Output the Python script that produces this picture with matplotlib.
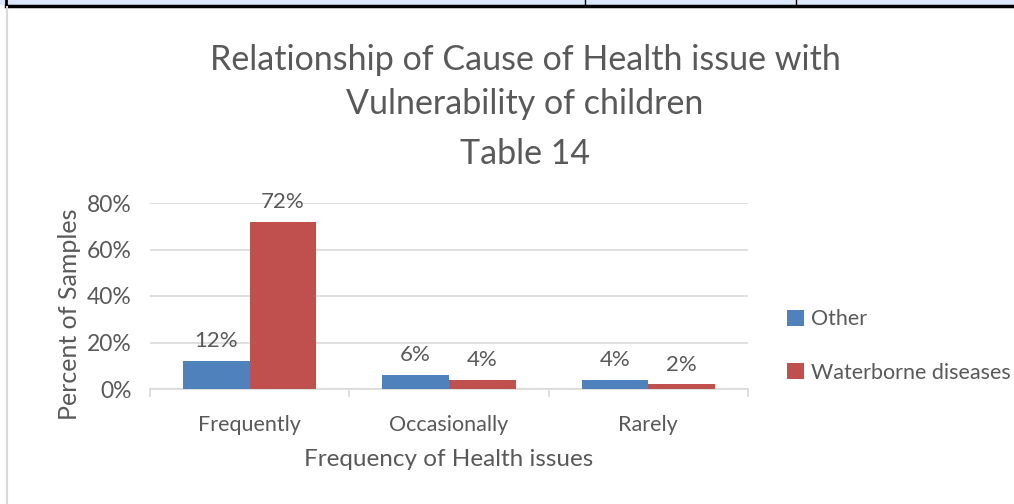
import numpy as np
import matplotlib
matplotlib.use("Agg")
import matplotlib.pyplot as plt
from matplotlib.lines import Line2D
from matplotlib.patches import Rectangle

# --- data ---
categories = ["Frequently", "Occasionally", "Rarely"]
series_names = ["Other", "Waterborne diseases"]
other = [12, 6, 4]
waterborne = [72, 4, 2]
y_ticks = [0, 20, 40, 60, 80]

BLUE = "#4f81bd"
RED = "#c0504d"
TEXT = "#595959"
GRID = "#d9d9d9"

plt.rcParams["font.family"] = ["Lato", "DejaVu Sans"]

W, H = 1014, 504
fig = plt.figure(figsize=(W / 100, H / 100), dpi=100)

# plot area in pixel terms
left, right, bottom, top = 150, 748, 389, 203
ax = fig.add_axes([left / W, 1 - bottom / H, (right - left) / W, (bottom - top) / H])

x = np.arange(len(categories))
bw = 0.335
b1 = ax.bar(x - bw / 2, other, bw, color=BLUE, label=series_names[0], zorder=3)
b2 = ax.bar(x + bw / 2, waterborne, bw, color=RED, label=series_names[1], zorder=3)

for bars, vals in ((b1, other), (b2, waterborne)):
    for rect, v in zip(bars, vals):
        ax.annotate(f"{v}%", (rect.get_x() + rect.get_width() / 2, v),
                    xytext=(0, 7), textcoords="offset points",
                    ha="center", va="bottom", fontsize=16, color=TEXT)

ax.set_xlim(-0.5, len(categories) - 0.5)
ax.set_ylim(0, 80)
ax.set_yticks(y_ticks)
ax.set_yticklabels([f"{t}%" for t in y_ticks])
ax.yaxis.grid(True, color=GRID, linewidth=1.2, zorder=0)
ax.set_axisbelow(True)

# category ticks sit on the boundaries, labels in the middle
ax.set_xticks(np.arange(len(categories) + 1) - 0.5)
ax.set_xticklabels([])
ax.set_xticks(x, minor=True)
ax.set_xticklabels(categories, minor=True)
ax.tick_params(axis="x", which="major", length=6, color=GRID, width=1.2)
ax.tick_params(axis="x", which="minor", length=0, pad=19, labelsize=15.5, labelcolor=TEXT)
ax.tick_params(axis="y", length=0, pad=13, labelsize=16.5, labelcolor=TEXT)

for s in ("top", "right", "left"):
    ax.spines[s].set_visible(False)
ax.spines["bottom"].set_color(GRID)
ax.spines["bottom"].set_linewidth(1.2)

ax.set_xlabel("Frequency of Health issues", fontsize=17.5, color=TEXT, labelpad=10)
ax.set_ylabel("Percent of Samples", fontsize=18, color=TEXT)
ax.yaxis.set_label_coords(-0.115, 0.40)

fig.text(525 / W, 1 - 60 / H, "Relationship of Cause of Health issue with",
         ha="center", va="center", fontsize=24.5, color=TEXT)
fig.text(525 / W, 1 - 104 / H, "Vulnerability of children",
         ha="center", va="center", fontsize=24.5, color=TEXT)
fig.text(525 / W, 1 - 154 / H, "Table 14",
         ha="center", va="center", fontsize=24.5, color=TEXT)

leg = fig.legend(handles=[b1, b2], labels=series_names, loc="upper left",
                 bbox_to_anchor=(768 / W, 1 - 290 / H), frameon=False,
                 fontsize=15.5, labelcolor=TEXT, handlelength=0.75, handleheight=0.75,
                 handletextpad=0.35, labelspacing=1.55)

# page border strip above the chart
fig.patches.append(Rectangle((0, 1 - 5 / H), 1, 5 / H, transform=fig.transFigure,
                             facecolor="#dae8fc", edgecolor="none"))
fig.add_artist(Line2D([6 / W, 1], [1 - 6 / H, 1 - 6 / H], color="black", linewidth=2.5))
fig.add_artist(Line2D([6 / W, 6 / W], [1, 1 - 6 / H], color="black", linewidth=2))
fig.add_artist(Line2D([7 / W, 7 / W], [0, 1 - 7 / H], color="#d9d9d9", linewidth=1.5))
for xv in (585, 796):
    fig.add_artist(Line2D([xv / W, xv / W], [1, 1 - 6 / H], color="black", linewidth=1))

fig.savefig("out.png", dpi=100)
